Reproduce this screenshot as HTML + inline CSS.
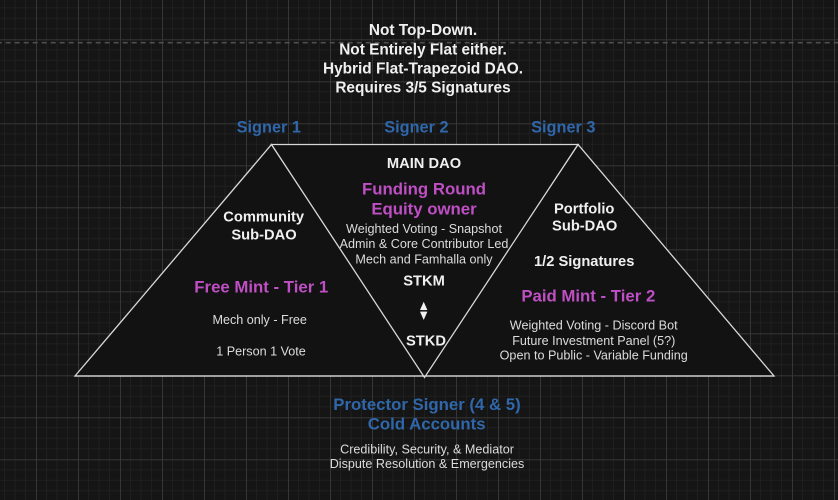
<!DOCTYPE html>
<html>
<head>
<meta charset="utf-8">
<style>
  html,body{margin:0;padding:0;background:#151515;}
  body{width:838px;height:500px;overflow:hidden;}
  svg{display:block;}
  text{font-family:"Liberation Sans", Arial, sans-serif;}
  .b{font-weight:bold;}
  .w{fill:#f0f0f0;}
  .g{fill:#dcdcdc;}
  .p{fill:#bf4fc4;}
  .bl{fill:#2f67aa;}
</style>
</head>
<body>
<svg width="838" height="500" viewBox="0 0 838 500" xmlns="http://www.w3.org/2000/svg">
  <defs>
    <pattern id="grid" x="36" y="39.3" width="42" height="42" patternUnits="userSpaceOnUse">
      <rect x="0" y="0" width="42" height="42" fill="#151515"/>
      <g stroke="#1f1f1f" stroke-width="1">
        <line x1="10.5" y1="0" x2="10.5" y2="42"/>
        <line x1="21" y1="0" x2="21" y2="42"/>
        <line x1="31.5" y1="0" x2="31.5" y2="42"/>
        <line x1="0" y1="10.5" x2="42" y2="10.5"/>
        <line x1="0" y1="21" x2="42" y2="21"/>
        <line x1="0" y1="31.5" x2="42" y2="31.5"/>
      </g>
      <g stroke="#363636" stroke-width="1">
        <line x1="0.5" y1="0" x2="0.5" y2="42"/>
        <line x1="0" y1="0.5" x2="42" y2="0.5"/>
      </g>
    </pattern>
  </defs>
  <rect x="0" y="0" width="838" height="500" fill="url(#grid)"/>

  <!-- dashed line -->
  <line x1="0" y1="42.7" x2="838" y2="42.7" stroke="#4e4e4e" stroke-width="1.6" stroke-dasharray="5 4" stroke-dashoffset="3.3"/>

  <!-- triangles -->
  <g fill="#121212" stroke="#d8d8d8" stroke-width="1.3" stroke-linejoin="miter">
    <polygon points="75,376 271.5,144.5 425,376"/>
    <polygon points="424.5,376 578,144.5 774,376"/>
    <polygon points="271.5,144.5 578,144.5 424.5,377.5"/>
  </g>
  <!-- redraw edges so overlaps stay crisp -->
  <g fill="none" stroke="#d8d8d8" stroke-width="1.3">
    <line x1="75" y1="376" x2="774" y2="376"/>
  </g>

  <!-- top text -->
  <g class="b w" font-size="15.4" text-anchor="middle">
    <text x="423" y="34.8">Not Top-Down.</text>
    <text x="423" y="54.5">Not Entirely Flat either.</text>
    <text x="423" y="73.5">Hybrid Flat-Trapezoid DAO.</text>
    <text x="423" y="92.5">Requires 3/5 Signatures</text>
  </g>

  <!-- signers -->
  <g class="b bl" font-size="16.3" text-anchor="middle">
    <text x="268.8" y="132.6">Signer 1</text>
    <text x="416.4" y="132.6">Signer 2</text>
    <text x="563.3" y="132.6">Signer 3</text>
  </g>

  <!-- middle -->
  <text class="b w" font-size="14.7" text-anchor="middle" x="424" y="168">MAIN DAO</text>
  <g class="b p" font-size="16.8" text-anchor="middle">
    <text x="424" y="194.3">Funding Round</text>
    <text x="424" y="214.3">Equity owner</text>
  </g>
  <g class="g" font-size="12.6" text-anchor="middle">
    <text x="424" y="233.2">Weighted Voting - Snapshot</text>
    <text x="424" y="248.2">Admin &amp; Core Contributor Led</text>
    <text x="424" y="263.5">Mech and Famhalla only</text>
  </g>
  <g class="b w" font-size="14.7" text-anchor="middle">
    <text x="424" y="285.4">STKM</text>
    <text x="426" y="345.4">STKD</text>
  </g>
  <!-- double arrow -->
  <g fill="#f0f0f0">
    <polygon points="423.7,301.8 420,310 427.4,310"/>
    <polygon points="420,311.6 427.4,311.6 423.7,320"/>
  </g>
  <line x1="421.5" y1="310.8" x2="426" y2="310.8" stroke="#333" stroke-width="1"/>

  <!-- left -->
  <g class="b w" font-size="14.7" text-anchor="middle">
    <text x="263.7" y="221.3">Community</text>
    <text x="264" y="239.3">Sub-DAO</text>
  </g>
  <text class="b p" font-size="16.8" text-anchor="middle" x="261.3" y="292.7">Free Mint - Tier 1</text>
  <g class="g" font-size="12.6" text-anchor="middle">
    <text x="259.7" y="323.8">Mech only - Free</text>
    <text x="261" y="355.5">1 Person 1 Vote</text>
  </g>

  <!-- right -->
  <g class="b w" font-size="14.7" text-anchor="middle">
    <text x="584.2" y="213.3">Portfolio</text>
    <text x="584.7" y="230.3">Sub-DAO</text>
    <text x="584.2" y="266">1/2 Signatures</text>
  </g>
  <text class="b p" font-size="16.8" text-anchor="middle" x="588.3" y="301.7">Paid Mint - Tier 2</text>
  <g class="g" font-size="12.6" text-anchor="middle">
    <text x="593.7" y="329.5">Weighted Voting - Discord Bot</text>
    <text x="593.8" y="344.8">Future Investment Panel (5?)</text>
    <text x="593.7" y="359.5">Open to Public - Variable Funding</text>
  </g>

  <!-- bottom -->
  <g class="b bl" font-size="16.8" text-anchor="middle">
    <text x="427" y="410">Protector Signer (4 &amp; 5)</text>
    <text x="426.7" y="429.3">Cold Accounts</text>
  </g>
  <g class="g" font-size="12.6" text-anchor="middle">
    <text x="427" y="453.5">Credibility, Security, &amp; Mediator</text>
    <text x="427" y="467.8">Dispute Resolution &amp; Emergencies</text>
  </g>
</svg>
</body>
</html>
